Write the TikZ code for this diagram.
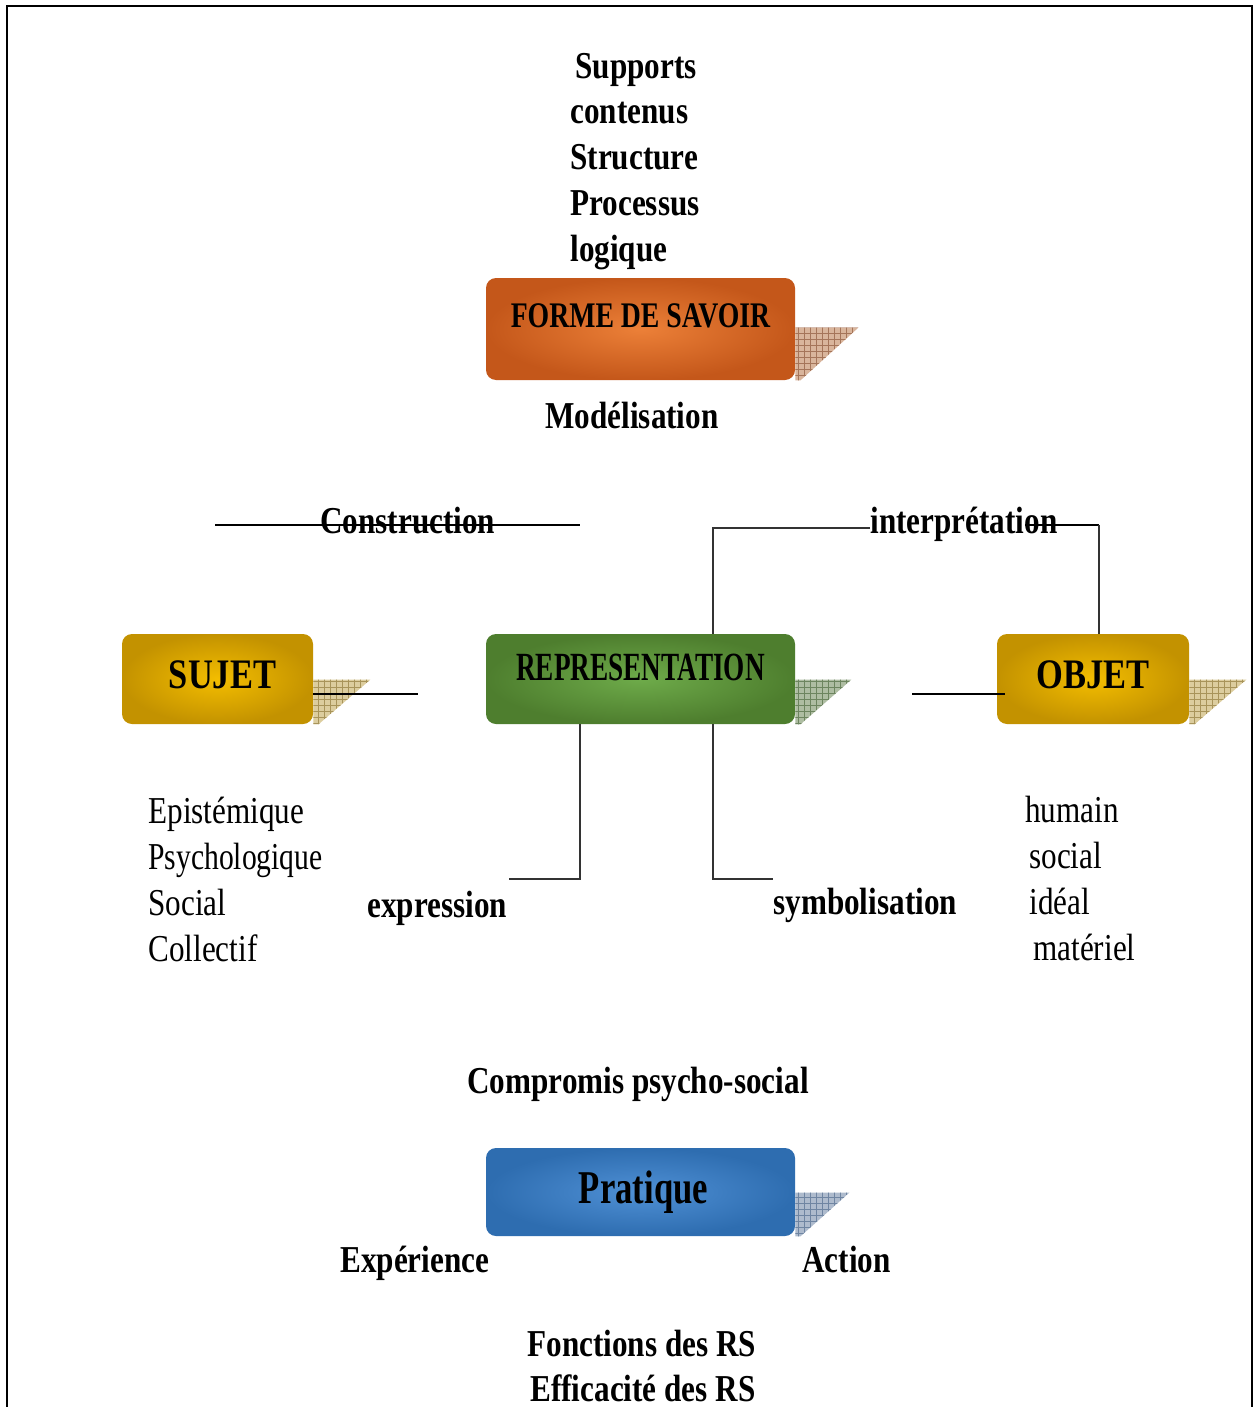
\documentclass[tikz,border=0pt]{standalone}
\usepackage{fontspec}
\usepackage{graphicx}
\setmainfont[FakeStretch=0.82]{Liberation Serif}
\usetikzlibrary{patterns,calc,backgrounds}

\definecolor{orOut}{HTML}{C4571A}
\definecolor{orIn}{HTML}{EC8038}
\definecolor{goOut}{HTML}{C39200}
\definecolor{goIn}{HTML}{F3BD00}
\definecolor{grOut}{HTML}{4E7E2E}
\definecolor{grIn}{HTML}{6EAB4A}
\definecolor{blOut}{HTML}{2E6DB0}
\definecolor{blIn}{HTML}{4F90D5}
\definecolor{orShade}{HTML}{D9B59C}
\definecolor{orGrid}{HTML}{A5755A}
\definecolor{goShade}{HTML}{DCCD9E}
\definecolor{goGrid}{HTML}{A8945A}
\definecolor{grShade}{HTML}{AEBDA2}
\definecolor{grGrid}{HTML}{6D855F}
\definecolor{blShade}{HTML}{AEBBCD}
\definecolor{blGrid}{HTML}{6F85A2}

% slanted, hatched drop-shadow behind the right end of a box
% #1 box name, #2 drop from top, #3 reach to the right, #4 fill, #5 grid
\newcommand\boxshade[5]{%
  \fill[#4] ($(#1.north east)+(0,#2)$) -- ++(#3,0) -- ($(#1.south east)+(5,0)$)
    -- (#1.south east) -- cycle;
  \fill[pattern=grid, pattern color=#5] ($(#1.north east)+(0,#2)$) -- ++(#3,0)
    -- ($(#1.south east)+(5,0)$) -- (#1.south east) -- cycle;
}

\begin{document}
\begin{tikzpicture}[x=0.5pt,y=-0.5pt,
  box/.style={rounded corners=5pt, inner sep=0pt, minimum width=154.5pt},
  lbl/.style={font=\bfseries\fontsize{19pt}{23pt}\selectfont, inner sep=0pt, anchor=base west},
  plain/.style={font=\fontsize{19pt}{23pt}\selectfont, inner sep=0pt, anchor=base west},
  link/.style={line width=1.4pt, black},
  thin link/.style={line width=1pt, black!80}]

\useasboundingbox (0,0) rectangle (1259,1407);

% outer frame
\draw[line width=1pt] (7,1407) -- (7,6) -- (1252,6) -- (1252,1407);

% boxes
\node[box, minimum height=51pt, inner color=orIn, outer color=orOut,
      text height=10pt, text depth=12pt,
      font=\bfseries\fontsize{18pt}{20pt}\selectfont]
  (forme) at (640.5,329) {\scalebox{0.94}[1]{FORME DE SAVOIR}};
\node[box, minimum width=95.5pt, minimum height=45pt, inner color=goIn, outer color=goOut,
      text height=15pt, text depth=6pt,
      font=\bfseries\fontsize{21pt}{23pt}\selectfont]
  (sujet) at (217.5,679) {\hspace{5pt}SUJET};
\node[box, minimum height=45pt, inner color=grIn, outer color=grOut,
      text height=11pt, text depth=10pt,
      font=\bfseries\fontsize{20pt}{22pt}\selectfont]
  (repr) at (640.5,679) {\scalebox{0.83}[1]{REPRESENTATION}};
\node[box, minimum width=96pt, minimum height=45pt, inner color=goIn, outer color=goOut,
      text height=15pt, text depth=6pt,
      font=\bfseries\fontsize{21pt}{23pt}\selectfont]
  (objet) at (1093,679) {OBJET};
\node[box, minimum height=44pt, inner color=blIn, outer color=blOut,
      text height=16pt, text depth=5pt,
      font=\bfseries\fontsize{23.5pt}{25pt}\selectfont]
  (pratique) at (640.5,1192) {\hspace{3pt}\scalebox{0.9}[1]{Pratique}};

% shadows under the boxes
\begin{scope}[on background layer]
  \fill[white] (0,0) rectangle (1259,1407);
  \boxshade{forme}{50}{63}{orShade}{orGrid}
  \boxshade{sujet}{46}{57}{goShade}{goGrid}
  \boxshade{repr}{46}{56}{grShade}{grGrid}
  \boxshade{objet}{46}{57}{goShade}{goGrid}
  \boxshade{pratique}{45}{54}{blShade}{blGrid}
\end{scope}

% list above FORME DE SAVOIR
\node[lbl] (supports) at (575,79) {Supports};
\node[lbl] (contenus) at (570,124) {contenus};
\node[lbl] (structure) at (570,170) {Structure};
\node[lbl] (processus) at (570,216) {Processus};
\node[lbl] (logique) at (570,262) {logique};
\node[lbl] (modelisation) at (545,428) {Modélisation};

% construction line
\coordinate (cA) at (215,525);
\coordinate (cB) at (580,525);
\draw[link] (cA) -- (cB);
\node[lbl] (construction) at (320,533) {Construction};

% interpretation bracket
\node[lbl] (interp) at (870,533) {interprétation};
\coordinate (iL) at (713,528);
\coordinate (iM) at (1025,525);
\coordinate (iR) at (1099,525);
\draw[thin link] (repr.north -| iL) -- (iL) -- (iL -| interp.west);
\draw[link] (iM) -- (iR);
\draw[thin link] (iR) -- (objet.north -| iR);

% side links
\coordinate (sR) at (418,694);
\draw[link] (sujet.east |- sR) -- (sR);
\coordinate (oL) at (912,694);
\draw[link] (oL) -- ($(oL -| objet.west)+(8,0)$);

% expression / symbolisation
\coordinate (eC) at (580,879);
\coordinate (eE) at (509,879);
\draw[thin link] (repr.south -| eC) -- (eC) -- (eE);
\coordinate (yC) at (713,879);
\coordinate (yE) at (773,879);
\draw[thin link] (repr.south -| yC) -- (yC) -- (yE);
\node[lbl] (expression) at (367,917) {expression};
\node[lbl] (symbolisation) at (773,914) {symbolisation};

% subject facets
\node[plain] (epist) at (148,823) {Epistémique};
\node[plain] (psycho) at (148,869) {\scalebox{0.95}[1]{Psychologique}};
\node[plain] (socialS) at (148,915) {Social};
\node[plain] (collectif) at (148,961) {Collectif};

% object facets
\node[plain] (humain) at (1025,822) {humain};
\node[plain] (socialO) at (1029,868) {social};
\node[plain] (ideal) at (1029,914) {idéal};
\node[plain] (materiel) at (1033,960) {matériel};

% bottom part
\node[lbl] (compromis) at (467,1093) {Compromis psycho-social};
\node[lbl] (experience) at (340,1272) {Expérience};
\node[lbl] (action) at (802,1272) {Action};
\node[lbl] (fonctions) at (527,1356) {Fonctions des RS};
\node[lbl] (efficacite) at (530,1401) {Efficacité des RS};

\end{tikzpicture}
\end{document}
